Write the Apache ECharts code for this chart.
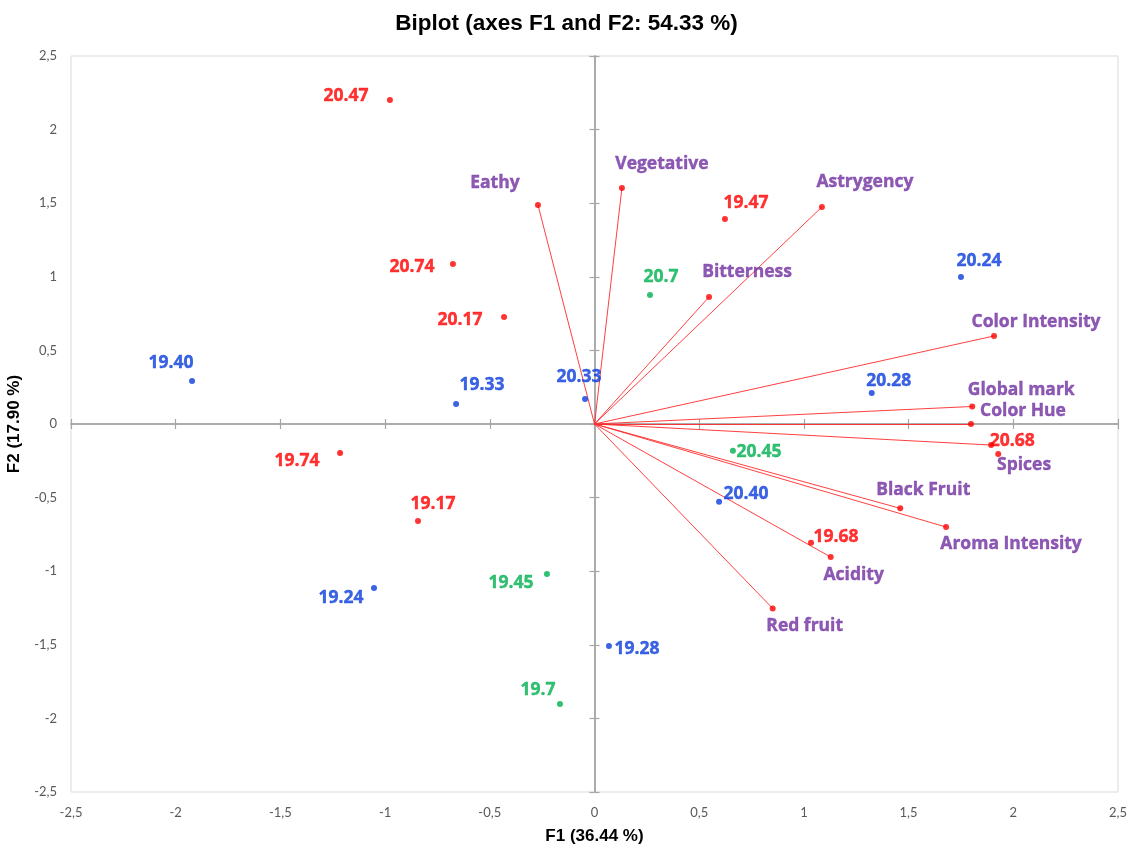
<!DOCTYPE html>
<html>
<head>
<meta charset="utf-8">
<title>Biplot (axes F1 and F2: 54.33 %)</title>
<script src="https://cdn.jsdelivr.net/npm/echarts@6/dist/echarts.min.js"></script>
<style>
  html, body { margin: 0; padding: 0; background: #fff; }
  #chart { width: 1133px; height: 847px; }
</style>
</head>
<body>
<div id="chart"></div>
<script>
// Active variables (loadings on F1 / F2)
const varNames = ['Eathy', 'Vegetative', 'Astrygency', 'Bitterness', 'Color Intensity', 'Global mark',
                  'Color Hue', 'Spices', 'Black Fruit', 'Aroma Intensity', 'Acidity', 'Red fruit'];
const varF1 = [-0.270, 0.131, 1.086, 0.547, 1.908, 1.804, 1.798, 1.894, 1.460, 1.679, 1.128, 0.851];
const varF2 = [1.488, 1.603, 1.474, 0.863, 0.598, 0.119, 0.000, -0.143, -0.573, -0.700, -0.904, -1.253];

// Observations, one group per colour
const redNames = ['20.47', '20.74', '20.17', '19.47', '19.74', '19.17', '19.68', '20.68'];
const redF1 = [-0.977, -0.676, -0.432, 0.623, -1.215, -0.843, 1.034, 1.928];
const redF2 = [2.201, 1.087, 0.727, 1.393, -0.197, -0.659, -0.806, -0.204];

const blueNames = ['19.40', '19.33', '20.33', '20.24', '20.28', '20.40', '19.24', '19.28'];
const blueF1 = [-1.922, -0.661, -0.045, 1.750, 1.324, 0.595, -1.053, 0.069];
const blueF2 = [0.292, 0.136, 0.170, 0.999, 0.211, -0.528, -1.114, -1.508];

const greenNames = ['20.7', '20.45', '19.45', '19.7'];
const greenF1 = [0.265, 0.661, -0.227, -0.165];
const greenF2 = [0.876, -0.182, -1.019, -1.902];

// Axis range and step (-2,5 … 2,5)
const axisMin = -2.5;
const axisMax = 2.5;
const axisStep = 0.5;

// Label placement (pixel offset of each label's centre from its point)
const labelOffsets = {
  '20.47': [-44, -5], '20.74': [-41, 2], '20.17': [-44, 2], '19.47': [21, -17],
  '19.74': [-43, 7], '19.17': [15, -18], '19.68': [25, -7], '20.68': [14, -14],
  '19.40': [-21, -19], '19.33': [26, -20], '20.33': [-6, -23], '20.24': [18, -17],
  '20.28': [17, -13], '20.40': [27, -9], '19.24': [-33, 9], '19.28': [28, 2],
  '20.7': [11, -19], '20.45': [26, 0], '19.45': [-36, 8], '19.7': [-22, -15],
  'Eathy': [-43, -23], 'Vegetative': [40, -25], 'Astrygency': [43, -26], 'Bitterness': [38, -26],
  'Color Intensity': [42, -15], 'Global mark': [49, -17], 'Color Hue': [52, -14], 'Spices': [33, 19],
  'Black Fruit': [23, -19], 'Aroma Intensity': [65, 16], 'Acidity': [23, 17], 'Red fruit': [32, 17]
};
const LABEL_NUDGE_Y = 1;

const LABEL_FONT = '"Open Sans", Lato, sans-serif';
const TICK_FONT = 'Lato, "Open Sans", sans-serif';
const HEAD_FONT = '"Liberation Sans", Arial, sans-serif';
const fmt = v => String(v).replace('.', ',');

function points(names, xs, ys) {
  return names.map((n, i) => {
    const off = labelOffsets[n] || [0, -14];
    return {
      name: n,
      value: [xs[i], ys[i]],
      label: { offset: [off[0], off[1] + LABEL_NUDGE_Y] }
    };
  });
}

function pointSeries(names, xs, ys, dotColor, textColor) {
  return {
    type: 'scatter',
    symbol: 'circle',
    symbolSize: 6,
    z: 5,
    itemStyle: { color: dotColor },
    label: {
      show: true,
      position: 'inside',
      formatter: '{b}',
      color: textColor,
      textBorderColor: textColor,
      textBorderWidth: 0.4,
      fontFamily: LABEL_FONT,
      fontWeight: 'bold',
      fontSize: 17.5
    },
    emphasis: { disabled: true },
    data: points(names, xs, ys)
  };
}

const common = { type: 'value', min: axisMin, max: axisMax, interval: axisStep, splitLine: { show: false } };
const zeroLine = { show: true, onZero: true, onZeroAxisIndex: 0, lineStyle: { color: '#a6a6a6', width: 1.5 } };
const tickStyle = { lineStyle: { color: '#a6a6a6', width: 1.2 } };

const option = {
  animation: false,
  backgroundColor: '#ffffff',
  title: {
    text: 'Biplot (axes F1 and F2: 54.33 %)',
    left: 'center',
    top: 7,
    textStyle: { fontFamily: HEAD_FONT, fontWeight: 'bold', fontSize: 22.5, color: '#000' }
  },
  grid: {
    left: 71, right: 15, top: 56, bottom: 55,
    outerBoundsMode: 'none',
    containLabel: false,
    show: true, borderColor: '#d9d9d9', borderWidth: 1, backgroundColor: '#fff'
  },
  xAxis: [
    Object.assign({}, common, {
      position: 'bottom',
      axisLine: { show: false, onZero: false },
      axisTick: { show: false },
      axisLabel: { formatter: fmt, color: '#595959', fontSize: 13, fontFamily: TICK_FONT, margin: 14 },
      name: 'F1 (36.44 %)',
      nameLocation: 'middle',
      nameGap: 36,
      nameTextStyle: { fontFamily: HEAD_FONT, fontWeight: 'bold', fontSize: 17, color: '#000' }
    }),
    Object.assign({}, common, {
      position: 'bottom',
      axisLine: zeroLine,
      axisTick: Object.assign({ show: true, inside: false, length: 5 }, tickStyle),
      axisLabel: { show: false }
    }),
    Object.assign({}, common, {
      position: 'bottom',
      axisLine: zeroLine,
      axisTick: Object.assign({ show: true, inside: true, length: 5 }, tickStyle),
      axisLabel: { show: false }
    })
  ],
  yAxis: [
    Object.assign({}, common, {
      position: 'left',
      axisLine: { show: false, onZero: false },
      axisTick: { show: false },
      axisLabel: { formatter: fmt, color: '#595959', fontSize: 13, fontFamily: TICK_FONT, margin: 14 },
      name: 'F2 (17.90 %)',
      nameLocation: 'middle',
      nameGap: 42,
      nameTextStyle: { fontFamily: HEAD_FONT, fontWeight: 'bold', fontSize: 17, color: '#000' }
    }),
    Object.assign({}, common, {
      position: 'left',
      axisLine: zeroLine,
      axisTick: Object.assign({ show: true, inside: false, length: 5 }, tickStyle),
      axisLabel: { show: false }
    }),
    Object.assign({}, common, {
      position: 'left',
      axisLine: zeroLine,
      axisTick: Object.assign({ show: true, inside: true, length: 5 }, tickStyle),
      axisLabel: { show: false }
    })
  ],
  series: [
    {
      // loading vectors from the origin
      type: 'lines',
      coordinateSystem: 'cartesian2d',
      z: 3,
      silent: true,
      lineStyle: { color: '#ff2a2a', width: 0.9, opacity: 1 },
      data: varNames.map((n, i) => ({ name: n, coords: [[0, 0], [varF1[i], varF2[i]]] }))
    },
    pointSeries(varNames, varF1, varF2, '#ff0000', '#7030a0'),
    pointSeries(redNames, redF1, redF2, '#ff0000', '#ff0000'),
    pointSeries(blueNames, blueF1, blueF2, '#0a3cdc', '#0a3cdc'),
    pointSeries(greenNames, greenF1, greenF2, '#00b050', '#00b050')
  ]
};

const chart = echarts.init(document.getElementById('chart'), null, { renderer: 'canvas' });
chart.setOption(option);
</script>
</body>
</html>
